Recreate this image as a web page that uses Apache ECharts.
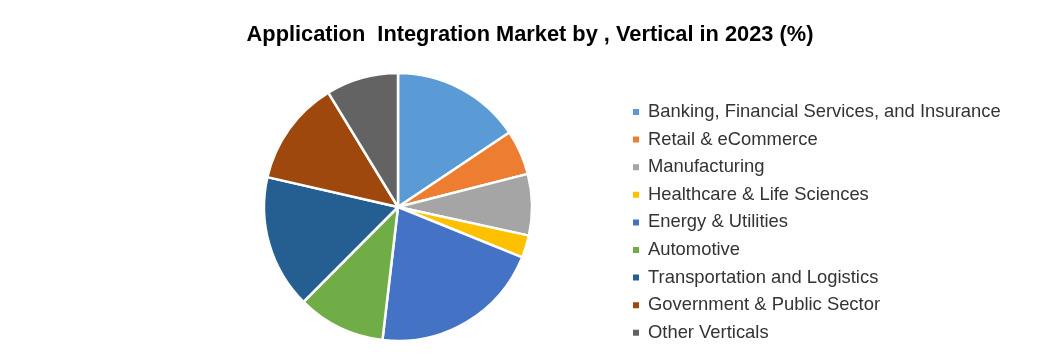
<!DOCTYPE html>
<html><head><meta charset="utf-8">
<script src="https://cdn.jsdelivr.net/npm/echarts@6/dist/echarts.min.js"></script>
<style>html,body{margin:0;padding:0;background:#fff}#c{width:1057px;height:360px}</style>
</head><body><div id="c"></div>
<script>
const categories = ["Banking, Financial Services, and Insurance","Retail & eCommerce","Manufacturing","Healthcare & Life Sciences","Energy & Utilities","Automotive","Transportation and Logistics","Government & Public Sector","Other Verticals"];
const values = [15.6, 5.4, 7.4, 2.7, 20.7, 10.6, 16.1, 12.7, 8.7];
const colors = ["#5B9BD5","#ED7D31","#A5A5A5","#FFC000","#4472C4","#70AD47","#255E91","#9E480E","#636363"];
const chart = echarts.init(document.getElementById('c'));
chart.setOption({
  animation:false,
  title:{text:"Application  Integration Market by , Vertical in 2023 (%)",left:525,top:19,textAlign:'center',
    textStyle:{fontFamily:'Liberation Sans',fontSize:21.8,fontWeight:'bold',color:'#000'}},
  color:colors,
  legend:{orient:'vertical',left:626,top:97,itemWidth:8,itemHeight:8,itemGap:7.6,icon:'rect',
    textStyle:{fontFamily:'Liberation Sans',fontSize:18.4,color:'#333333',lineHeight:20,padding:[0,0,0,3]},
    data:categories},
  series:[{type:'pie',center:[398,207],radius:134,startAngle:90,clockwise:true,label:{show:false},labelLine:{show:false},
    itemStyle:{borderColor:'#fff',borderWidth:2.5},emphasis:{disabled:true},
    data:categories.map((n,i)=>({name:n,value:values[i]}))}]
});
</script></body></html>
